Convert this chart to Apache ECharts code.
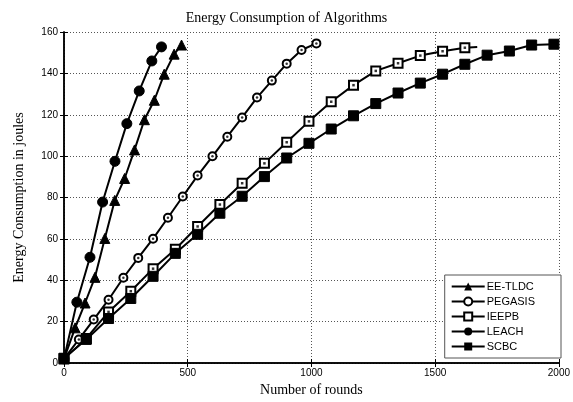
<!DOCTYPE html>
<html>
<head>
<meta charset="utf-8">
<script src="https://cdn.jsdelivr.net/npm/echarts@6/dist/echarts.min.js"></script>
<style>html,body{margin:0;padding:0;background:#fff}#c{width:573px;height:402px}</style>
</head>
<body>
<div id="c"></div>
<script>
const eeX = [0, 45, 85, 125, 165, 205, 245, 285, 325, 365, 405, 445, 475];
const eeY = [2, 17, 29, 41.4, 60.2, 78.6, 89.2, 103, 117.6, 127, 139.6, 149.3, 153.7];
const pegX = [0, 60, 120, 180, 240, 300, 360, 420, 480, 540, 600, 660, 720, 780, 840, 900, 960, 1020];
const pegY = [2, 11.4, 21.0, 30.6, 41.2, 50.8, 60.1, 70.2, 80.5, 90.6, 99.9, 109.4, 118.7, 128.3, 136.5, 144.7, 151.3, 154.5];
const ieX = [0, 90, 180, 270, 360, 450, 540, 630, 720, 810, 900, 990, 1080, 1170, 1260, 1350, 1440, 1530, 1620, 1670];
const ieY = [2, 11.9, 24.7, 34.7, 45.6, 55.0, 66.0, 76.6, 86.9, 96.5, 106.7, 116.8, 126.3, 134.3, 141.2, 144.9, 148.6, 150.7, 152.4, 152.8];
const leX = [0, 52, 105, 156, 206, 254, 304, 355, 394];
const leY = [2, 29.4, 51.1, 77.8, 97.5, 115.7, 131.5, 146, 152.8];
const scX = [0, 90, 180, 270, 360, 450, 540, 630, 720, 810, 900, 990, 1080, 1170, 1260, 1350, 1440, 1530, 1620, 1710, 1800, 1890, 1980];
const scY = [2.3, 11.4, 21.5, 31.2, 41.9, 53.0, 62.2, 72.4, 80.6, 90.1, 99.1, 106.2, 113.1, 119.5, 125.4, 130.5, 135.3, 139.6, 144.4, 148.8, 150.8, 153.7, 154.1];
const names = ['EE-TLDC', 'PEGASIS', 'IEEPB', 'LEACH', 'SCBC'];
const xTicks = [0, 500, 1000, 1500, 2000];
const yTicks = [0, 20, 40, 60, 80, 100, 120, 140, 160];

const zip = (xs, ys) => xs.map((x, i) => [x, ys[i]]);
const chart = echarts.init(document.getElementById('c'));
const lineBase = { type: 'line', smooth: false, lineStyle: { color: '#000', width: 2 }, itemStyle: { color: '#000', borderColor: '#000' }, z: 3 };
const ieData = zip(ieX, ieY).map((p, i) => i === ieX.length - 1 ? { value: p, symbol: 'none' } : p);
const grid = { left: 64, right: 13, top: 32, bottom: 39 };
const axisCommon = {
  axisLine: { show: true, lineStyle: { color: '#000', width: 1.5 } },
  axisTick: { show: true, inside: true, length: 4, lineStyle: { color: '#000' } },
  axisLabel: { color: '#000', fontFamily: 'Liberation Sans', fontSize: 10 }
};
chart.setOption({
  animation: false,
  backgroundColor: '#fff',
  title: { text: 'Energy Consumption of Algorithms', left: 'center', top: 6, textStyle: { fontFamily: 'Liberation Serif', fontWeight: 'normal', fontSize: 14, color: '#000' } },
  grid: grid,
  legend: {
    data: names, orient: 'vertical', right: 12, top: 275, width: 120,
    backgroundColor: '#fff', borderColor: '#555', borderWidth: 1,
    padding: [6, 26, 6, 6], itemGap: 4, itemWidth: 33, itemHeight: 10,
    textStyle: { fontFamily: 'Liberation Sans', fontSize: 11, color: '#000', padding: [0, 0, 0, -3] }
  },
  xAxis: [
    Object.assign({}, axisCommon, {
      type: 'value', min: 0, max: 2000, interval: 500,
      name: 'Number of rounds', nameLocation: 'middle', nameGap: 20,
      nameTextStyle: { fontFamily: 'Liberation Serif', fontSize: 14, color: '#000' },
      axisLabel: Object.assign({}, axisCommon.axisLabel, { margin: 5, formatter: v => xTicks.includes(v) ? String(v) : '' }),
      splitLine: { show: true, lineStyle: { color: '#555', type: [1, 2], width: 1 } }
    }),
    Object.assign({}, axisCommon, {
      type: 'value', min: 0, max: 2000, interval: 500, position: 'top',
      axisLabel: { show: false }, splitLine: { show: false }
    })
  ],
  yAxis: [
    Object.assign({}, axisCommon, {
      type: 'value', min: 0, max: 160, interval: 20,
      name: 'Energy Consumption in joules', nameLocation: 'middle', nameGap: 38,
      nameTextStyle: { fontFamily: 'Liberation Serif', fontSize: 14, color: '#000' },
      axisLabel: Object.assign({}, axisCommon.axisLabel, { margin: 6, formatter: v => yTicks.includes(v) ? String(v) : '' }),
      splitLine: { show: true, lineStyle: { color: '#555', type: [1, 2], width: 1 } }
    }),
    Object.assign({}, axisCommon, {
      type: 'value', min: 0, max: 160, interval: 20, position: 'right',
      axisLabel: { show: false }, splitLine: { show: false }
    })
  ],
  series: [
    Object.assign({}, lineBase, { name: names[0], data: zip(eeX, eeY), symbol: 'triangle', symbolSize: 10 }),
    Object.assign({}, lineBase, { name: names[1], data: zip(pegX, pegY), symbol: 'circle', symbolSize: 8, itemStyle: { color: '#fff', borderColor: '#000', borderWidth: 2 } }),
    { type: 'scatter', data: zip(pegX, pegY), symbol: 'circle', symbolSize: 2.5, itemStyle: { color: '#000' }, z: 4, silent: true },
    Object.assign({}, lineBase, { name: names[2], data: ieData, symbol: 'rect', symbolSize: 9, itemStyle: { color: '#fff', borderColor: '#000', borderWidth: 2 } }),
    { type: 'scatter', data: zip(ieX.slice(0, -1), ieY.slice(0, -1)), symbol: 'rect', symbolSize: 2.5, itemStyle: { color: '#000' }, z: 4, silent: true },
    Object.assign({}, lineBase, { name: names[3], data: zip(leX, leY), symbol: 'circle', symbolSize: 10 }),
    Object.assign({}, lineBase, { name: names[4], data: zip(scX, scY), symbol: 'rect', symbolSize: 10 })
  ]
});
</script>
</body>
</html>
